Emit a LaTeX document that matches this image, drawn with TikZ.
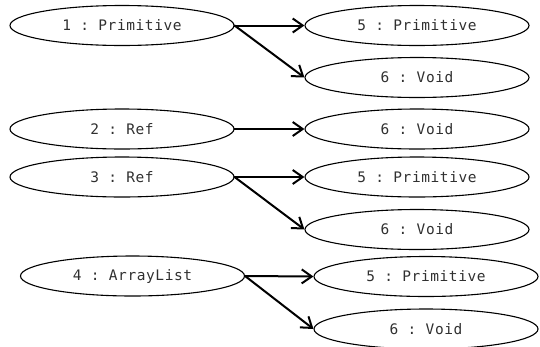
\documentclass[tikz,border=0pt]{standalone}
\usepackage{fontspec}
\setmonofont[LetterSpace=4]{DejaVu Sans Mono}
\usetikzlibrary{shapes.geometric,arrows.meta}
\definecolor{txt}{HTML}{303030}
\tikzset{
  obj/.style={draw=black, line width=1.1pt, shape=ellipse, minimum width=224pt, minimum height=40pt, inner sep=0pt,
    font=\ttfamily\fontsize{14.5pt}{17pt}\selectfont, text=txt},
  ref/.style={draw=black, line width=2pt, -{Straight Barb[length=10pt,width=14pt,line width=2pt]}, shorten <=-0.5pt}
}
\begin{document}
\begin{tikzpicture}[x=1pt,y=-1pt]
\useasboundingbox (0,0) rectangle (540,346);
\node[obj] (n1) at (122,25.5) {1 : Primitive};
\node[obj] (a5) at (417,25.5) {5 : Primitive};
\node[obj] (a6) at (417,77.5) {6 : Void};
\node[obj] (n2) at (122,129) {2 : Ref};
\node[obj] (b6) at (417,129) {6 : Void};
\node[obj] (n3) at (122,177) {3 : Ref};
\node[obj] (c5) at (417,177) {5 : Primitive};
\node[obj] (c6) at (417,229.5) {6 : Void};
\node[obj] (n4) at (132.5,276) {4 : ArrayList};
\node[obj] (d5) at (426,276.5) {5 : Primitive};
\node[obj] (d6) at (426,329) {6 : Void};
\draw[ref] (n1.east) -- (a5.west);
\draw[ref] (n1.east) -- (a6.west);
\draw[ref] (n2.east) -- (b6.west);
\draw[ref] (n3.east) -- (c5.west);
\draw[ref] (n3.east) -- (c6.west);
\draw[ref] (n4.east) -- (d5.west);
\draw[ref] (n4.east) -- (d6.west);
\end{tikzpicture}
\end{document}
